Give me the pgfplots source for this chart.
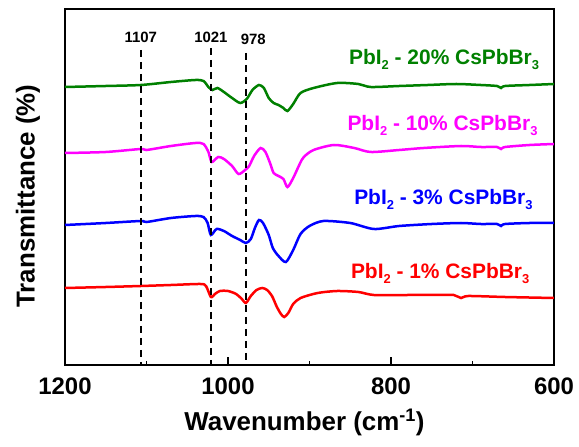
\documentclass[border=0pt]{standalone}
\usepackage{fontspec}
\setmainfont{Liberation Sans}
\usepackage{pgfplots}
\pgfplotsset{compat=1.18}

\definecolor{cgreen}{RGB}{0,128,0}
\definecolor{cmag}{RGB}{255,0,255}
\definecolor{cblue}{RGB}{0,0,255}
\definecolor{cred}{RGB}{255,0,0}

\newcommand{\sub}[1]{\raisebox{-5bp}{\fontsize{13}{15}\selectfont #1}}

% spectra (offset transmittance, arbitrary units)
\pgfplotstableread{
wn y
1200 279
1150 280
1107 281
1070 284
1040 286
1030 285
1024 279
1019 276
1013 278
1005 274
995 268
985 263
977 267
970 276
962 281
956 278
950 268
944 263
938 261
932 258
927 255
920 262
911 273
895 278
866 283
840 282
825 279
790 280
755 281
720 282
690 281
670 280
665 278
660 280
630 281
600 282
}\greendata
\pgfplotstableread{
wn y
1200 213
1150 214
1107 217
1100 216
1070 220
1040 223
1030 222
1024 214
1020 204
1012 209
1005 207
995 200
987 192
979 196
974 200
968 210
960 218
954 214
948 202
944 193
938 190
932 187
927 179
920 188
912 202
907 209
895 216
870 221
845 218
825 214
790 216
760 218
714 220
690 219
670 219
665 217
660 219
630 221
600 222
}\magdata
\pgfplotstableread{
wn y
1200 141
1150 143
1107 145
1100 144
1070 148
1040 150
1030 149
1025 143
1021 131
1014 137
1005 135
995 130
985 126
978 123
972 127
967 138
962 146
957 143
950 131
945 118
938 110
929 104
920 116
911 132
900 140
883 145
850 143
821 137
790 140
750 142
714 143
690 142
670 142
665 140
660 142
630 143
600 143
}\bluedata
\pgfplotstableread{
wn y
1200 78
1150 79
1107 80
1070 81
1034 82
1027 80
1021 69
1016 72
1010 75
1000 75
990 72
983 67
978 63
972 70
965 76
958 78
952 76
946 70
940 59
935 52
931 49
926 53
920 62
911 68
890 73
866 75
840 74
821 71
780 71
740 71
723 71
714 68
705 70
660 69
600 68
}\reddata

\begin{document}
\begin{tikzpicture}
\useasboundingbox (-65bp,-82bp) rectangle (514bp,365bp);
\begin{axis}[
  scale only axis,
  width=489bp, height=356bp,
  xmin=600, xmax=1200, x dir=reverse,
  ymin=1, ymax=357,
  xtick={600,800,1000,1200},
  minor x tick num=1,
  ytick=\empty,
  tick align=inside,
  xtick pos=bottom,
  major tick length=8bp,
  minor tick length=4bp,
  every tick/.style={black, line width=1.6bp},
  axis line style={line width=2.5bp},
  /pgf/number format/assume math mode=true,
  /pgf/number format/set thousands separator={},
  xticklabel style={font=\fontsize{24}{28}\selectfont\bfseries, yshift=-9bp},
  xlabel={Wavenumber (cm\textsuperscript{-1})},
  xlabel style={font=\fontsize{26}{30}\selectfont\bfseries,
    at={(axis description cs:0.5,0)}, anchor=base, yshift=-65bp, xshift=-5bp},
  ylabel={Transmittance (\%)},
  ylabel style={font=\fontsize{26}{30}\selectfont\bfseries,
    at={(axis description cs:0,0.5)}, anchor=center, xshift=-9bp, yshift=37bp},
  every axis plot/.append style={line width=2.5bp, smooth, tension=0.45},
]
\addplot[cgreen] table[x=wn,y=y] {\greendata};
\addplot[cmag] table[x=wn,y=y] {\magdata};
\addplot[cblue] table[x=wn,y=y] {\bluedata};
\addplot[cred] table[x=wn,y=y] {\reddata};

\draw[black, line width=1.5bp, dash pattern=on 7bp off 5bp] (axis cs:1107,316) -- (axis cs:1107,1);
\draw[black, line width=1.5bp, dash pattern=on 7bp off 5bp] (axis cs:1021,318) -- (axis cs:1021,1);
\draw[black, line width=1.5bp, dash pattern=on 7bp off 5bp] (axis cs:978,313) -- (axis cs:978,1);
\node[font=\fontsize{15}{18}\selectfont\bfseries] at (axis cs:1107,329) {1107};
\node[font=\fontsize{15}{18}\selectfont\bfseries] at (axis cs:1021,329) {1021};
\node[font=\fontsize{15}{18}\selectfont\bfseries] at (axis cs:969,327) {978};

\node[cgreen, anchor=base east, inner sep=0pt, font=\fontsize{21}{25}\selectfont\bfseries] at (axis cs:618,301) {PbI\sub{2} - 20\% CsPbBr\sub{3}};
\node[cmag, anchor=base east, inner sep=0pt, font=\fontsize{21}{25}\selectfont\bfseries] at (axis cs:620,235) {PbI\sub{2} - 10\% CsPbBr\sub{3}};
\node[cblue, anchor=base east, inner sep=0pt, font=\fontsize{21}{25}\selectfont\bfseries] at (axis cs:626,161) {PbI\sub{2} - 3\% CsPbBr\sub{3}};
\node[cred, anchor=base east, inner sep=0pt, font=\fontsize{21}{25}\selectfont\bfseries] at (axis cs:630,88) {PbI\sub{2} - 1\% CsPbBr\sub{3}};
\end{axis}
\end{tikzpicture}
\end{document}
